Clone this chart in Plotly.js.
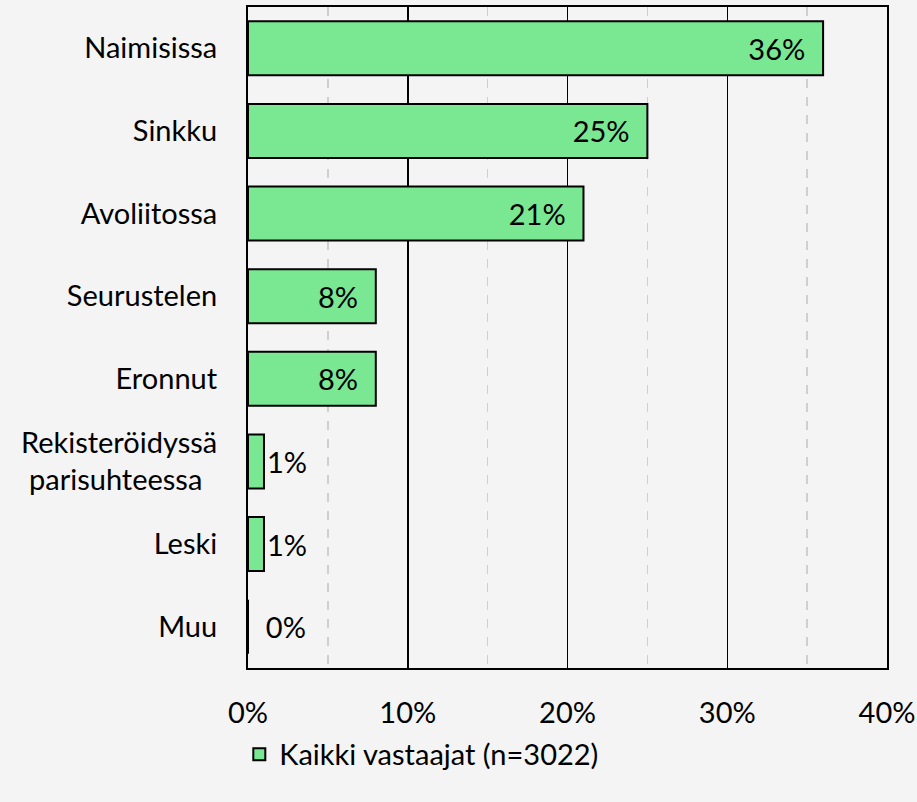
<!DOCTYPE html>
<html><head><meta charset="utf-8">
<script src="https://cdn.plot.ly/plotly-3.0.1.min.js"></script>
<style>html,body{margin:0;padding:0;background:#f4f4f4;}</style>
</head><body><div id="chart" style="width:917px;height:802px;"></div>
<script>
const categories = ["Naimisissa","Sinkku","Avoliitossa","Seurustelen","Eronnut","Rekisteröidyssä<br>parisuhteessa\u00a0\u00a0","Leski","Muu"];
const values = [36, 25, 21, 8, 8, 1, 1, 0];
const seriesName = "Kaikki vastaajat (n=3022)";
const xTickVals = [0, 10, 20, 30, 40];
const xTickText = ["0%", "10%", "20%", "30%", "40%"];

const FONT = "Lato, 'Open Sans', sans-serif";
const FS = 29;
const labels = values.map(v => v + "%");
const textPos = values.map(v => v >= 5 ? "inside" : "outside");
const labelText = values.map((v, i) => textPos[i] === "inside" ? labels[i] + "\u00a0\u00a0" : (v === 0 ? "\u00a0\u00a0" + labels[i] : labels[i]));

const trace = {
  type: "bar", orientation: "h",
  y: categories, x: values,
  name: seriesName,
  marker: {color: "#7ae792", line: {color: "#000", width: 2}},
  text: labelText, textposition: textPos,
  insidetextanchor: "end",
  textfont: {family: FONT, size: FS, color: "#000"},
  insidetextfont: {family: FONT, size: FS, color: "#000"},
  outsidetextfont: {family: FONT, size: FS, color: "#000"},
  constraintext: "none", cliponaxis: false,
  hoverinfo: "skip", showlegend: true
};

const layout = {
  width: 917, height: 802,
  paper_bgcolor: "#f4f4f4", plot_bgcolor: "#f4f4f4",
  margin: {l: 248, r: 30, t: 7, b: 134},
  font: {family: FONT, size: FS, color: "#000"},
  bargap: 0.345,
  xaxis: {
    range: [0, 40], tickvals: xTickVals, ticktext: xTickText,
    showgrid: true, gridcolor: "#000", gridwidth: 1.5,
    minor: {dtick: 5, tick0: 0, showgrid: true, gridcolor: "#cfcfcf", gridwidth: 1.5, griddash: "dash"},
    showline: true, linecolor: "#000", linewidth: 2, mirror: true,
    ticks: "outside", ticklen: 18, tickcolor: "rgba(0,0,0,0)",
    zeroline: false, fixedrange: true,
    tickfont: {family: FONT, size: FS, color: "#000"}
  },
  yaxis: {
    autorange: "reversed", type: "category",
    showgrid: false, showline: true, linecolor: "#000", linewidth: 2, mirror: true,
    ticks: "outside", ticklen: 23, tickcolor: "rgba(0,0,0,0)",
    tickfont: {family: FONT, size: FS, color: "#000"}, fixedrange: true
  },
  showlegend: true,
  legend: {orientation: "h", x: 0.272, xanchor: "center", y: -0.092, yanchor: "top",
           font: {family: FONT, size: FS, color: "#000"}, bgcolor: "rgba(0,0,0,0)",
           itemwidth: 30}
};

Plotly.newPlot("chart", [trace], layout, {displayModeBar: false, staticPlot: true});
</script></body></html>
